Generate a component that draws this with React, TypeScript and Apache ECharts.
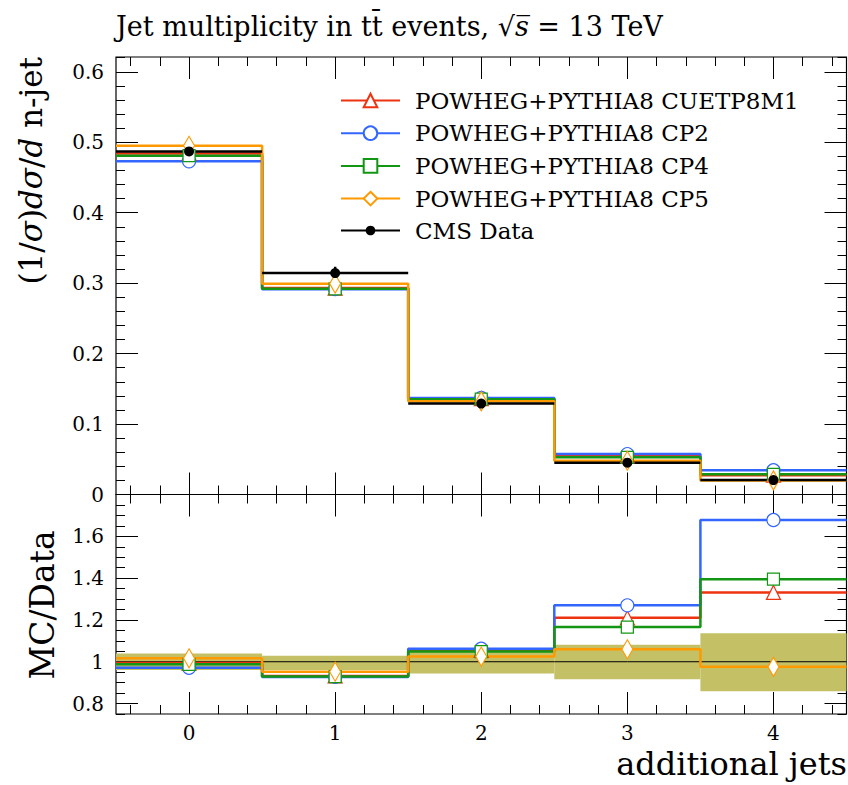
import React, { useEffect, useRef } from 'react';
import * as echarts from 'echarts';

// ---- data ----
const binEdges = [-0.5, 0.5, 1.5, 2.5, 3.5, 4.5];
const binCenters = [0, 1, 2, 3, 4];
const xTickLabels = ['0', '1', '2', '3', '4'];

const yTopTicks = [0, 0.1, 0.2, 0.3, 0.4, 0.5, 0.6];
const yTopTickLabels = ['0', '0.1', '0.2', '0.3', '0.4', '0.5', '0.6'];
const yRatioTicks = [0.8, 1.0, 1.2, 1.4, 1.6];
const yRatioTickLabels = ['0.8', '1', '1.2', '1.4', '1.6'];

const cmsData = [0.487, 0.3143, 0.129, 0.0452, 0.0205];
const cmsErrUp = [0.019, 0.009, 0.0068, 0.0037, 0.0028];
const cmsErrDown = [0.019, 0.0125, 0.0072, 0.0038, 0.0029];

const mcCUETP8M1 = [0.484, 0.293, 0.136, 0.0547, 0.0273];
const mcCP2 = [0.473, 0.2915, 0.137, 0.0574, 0.0344];
const mcCP4 = [0.481, 0.292, 0.1353, 0.0527, 0.0286];
const mcCP5 = [0.495, 0.2993, 0.1322, 0.0479, 0.0200];

const mcNames = [
  'POWHEG+PYTHIA8 CUETP8M1',
  'POWHEG+PYTHIA8 CP2',
  'POWHEG+PYTHIA8 CP4',
  'POWHEG+PYTHIA8 CP5',
];
const dataName = 'CMS Data';

const FONT = 'DejaVu Serif';

const mcStyles = [
  { values: mcCUETP8M1, color: '#ee3311', symbol: 'triangle', size: 14 },
  { values: mcCP2, color: '#3366ff', symbol: 'circle', size: 13 },
  { values: mcCP4, color: '#139613', symbol: 'rect', size: 12 },
  { values: mcCP5, color: '#ff9900', symbol: 'diamond', size: [11, 19] },
];

function range(from: number, to: number, step: number, skip: number[]) {
  const out: number[] = [];
  const n = Math.round((to - from) / step);
  for (let k = 0; k <= n; k++) {
    const v = Math.round((from + k * step) * 1000) / 1000;
    if (!skip.some((s) => Math.abs(s - v) < 1e-9)) out.push(v);
  }
  return out;
}

const xMinor = range(-0.4, 4.4, 0.2, binCenters);
const yTopMinor = range(0.02, 0.62, 0.02, yTopTicks);
const yRatioMinor = range(0.75, 1.75, 0.05, yRatioTicks);

function stepData(values: number[]) {
  const pts: any[] = [];
  values.forEach((v, i) => {
    pts.push({ value: [binEdges[i], v], symbol: 'none' });
    pts.push({ value: [binCenters[i], v] });
    pts.push({ value: [binEdges[i + 1], v], symbol: 'none' });
  });
  return pts;
}

function barData(values: number[]) {
  const pts: any[] = [];
  values.forEach((v, i) => {
    pts.push({ value: [binEdges[i], v], symbol: 'none' });
    pts.push({ value: [binCenters[i], v] });
    pts.push({ value: [binEdges[i + 1], v], symbol: 'none' });
    if (i < values.length - 1) pts.push({ value: [binEdges[i + 1], '-'], symbol: 'none' });
  });
  return pts;
}

function errData(values: number[], up: number[], down: number[]) {
  const pts: any[] = [];
  values.forEach((v, i) => {
    pts.push([binCenters[i], v - down[i]]);
    pts.push([binCenters[i], v + up[i]]);
    if (i < values.length - 1) pts.push([binCenters[i], '-']);
  });
  return pts;
}

const tick = (len: number, vals: number[]) => ({
  show: true,
  inside: true,
  length: len,
  customValues: vals,
  lineStyle: { color: '#000', width: 1 },
});

function xAxes(gridIndex: number, withLabels: boolean) {
  const base = {
    type: 'value',
    gridIndex,
    min: -0.5,
    max: 4.5,
    axisLine: { show: false, onZero: false },
    splitLine: { show: false },
  };
  return [
    {
      ...base,
      position: 'bottom',
      axisTick: tick(22, binCenters),
      axisLabel: withLabels
        ? {
            show: true,
            customValues: binCenters,
            formatter: (v: number) => xTickLabels[binCenters.indexOf(v)] ?? '',
            color: '#000',
            fontFamily: FONT,
            fontSize: 20,
            margin: 9,
          }
        : { show: false },
    },
    { ...base, position: 'bottom', axisTick: tick(9, xMinor), axisLabel: { show: false } },
    { ...base, position: 'top', axisTick: tick(22, binCenters), axisLabel: { show: false } },
    { ...base, position: 'top', axisTick: tick(9, xMinor), axisLabel: { show: false } },
  ];
}

function yAxes(gridIndex: number, min: number, max: number, major: number[], labels: string[], minor: number[]) {
  const base = {
    type: 'value',
    gridIndex,
    min,
    max,
    axisLine: { show: false, onZero: false },
    splitLine: { show: false },
  };
  return [
    {
      ...base,
      position: 'left',
      axisTick: tick(22, major),
      axisLabel: {
        show: true,
        customValues: major,
        formatter: (v: number) => {
          const i = major.findIndex((m) => Math.abs(m - v) < 1e-9);
          return i >= 0 ? labels[i] : '';
        },
        color: '#000',
        fontFamily: FONT,
        fontSize: 20,
        margin: 12,
      },
    },
    { ...base, position: 'left', axisTick: tick(9, minor), axisLabel: { show: false } },
    { ...base, position: 'right', axisTick: tick(22, major), axisLabel: { show: false } },
    { ...base, position: 'right', axisTick: tick(9, minor), axisLabel: { show: false } },
  ];
}

export default function App() {
  const ref = useRef<HTMLDivElement>(null);

  useEffect(() => {
    if (!ref.current) return;
    const chart = echarts.init(ref.current, null, { renderer: 'svg' });

    const series: any[] = [];

    // ratio panel: uncertainty band
    series.push({
      type: 'custom',
      name: 'band',
      xAxisIndex: 4,
      yAxisIndex: 4,
      silent: true,
      data: cmsData.map((v, i) => [binEdges[i], binEdges[i + 1], 1 - cmsErrDown[i] / v, 1 + cmsErrUp[i] / v]),
      encode: { x: [0, 1], y: [2, 3] },
      renderItem: (params: any, api: any) => {
        const p1 = api.coord([api.value(0), api.value(3)]);
        const p2 = api.coord([api.value(1), api.value(2)]);
        return {
          type: 'rect',
          shape: { x: p1[0], y: p1[1], width: p2[0] - p1[0], height: p2[1] - p1[1] },
          style: { fill: '#c4c066' },
        };
      },
    });
    // ratio panel: data/data reference line
    series.push({
      type: 'line',
      name: 'ratio-ref',
      xAxisIndex: 4,
      yAxisIndex: 4,
      silent: true,
      symbol: 'none',
      data: stepData(cmsData.map((v) => v / v)),
      lineStyle: { color: '#000', width: 1 },
    });

    mcStyles.forEach((m, k) => {
      const common = {
        type: 'line',
        name: mcNames[k],
        silent: true,
        symbol: m.symbol,
        symbolSize: m.size,
        showSymbol: true,
        lineStyle: { color: m.color, width: 2.5 },
        itemStyle: { color: '#fff', borderColor: m.color, borderWidth: 1.2 },
        emphasis: { disabled: true },
      };
      series.push({ ...common, xAxisIndex: 0, yAxisIndex: 0, data: stepData(m.values) });
      series.push({
        ...common,
        xAxisIndex: 4,
        yAxisIndex: 4,
        data: stepData(m.values.map((v, i) => v / cmsData[i])),
      });
    });

    // data in top panel
    series.push({
      type: 'line',
      name: dataName,
      xAxisIndex: 0,
      yAxisIndex: 0,
      silent: true,
      symbol: 'circle',
      symbolSize: 10,
      showSymbol: true,
      connectNulls: false,
      lineStyle: { color: '#000', width: 2.5 },
      itemStyle: { color: '#000' },
      data: barData(cmsData),
    });
    series.push({
      type: 'line',
      name: 'data-err',
      xAxisIndex: 0,
      yAxisIndex: 0,
      silent: true,
      symbol: 'none',
      connectNulls: false,
      lineStyle: { color: '#000', width: 2.5 },
      data: errData(cmsData, cmsErrUp, cmsErrDown),
    });

    const legendText = { fontFamily: FONT, fontSize: 23, color: '#000', padding: [0, 0, 0, 10] };

    chart.setOption({
      animation: false,
      backgroundColor: '#fff',
      grid: [
        { left: 116, top: 57, width: 730.5, height: 437.5, show: true, borderColor: '#000', borderWidth: 1.2 },
        { left: 116, top: 494.5, width: 730.5, height: 219.5, show: true, borderColor: '#000', borderWidth: 1.2 },
      ],
      xAxis: [...xAxes(0, false), ...xAxes(1, true)],
      yAxis: [
        ...yAxes(0, 0, 0.621, yTopTicks, yTopTickLabels, yTopMinor),
        ...yAxes(1, 0.75, 1.8, yRatioTicks, yRatioTickLabels, yRatioMinor),
      ],
      legend: [
        {
          data: mcNames,
          orient: 'vertical',
          left: 335,
          top: 84,
          itemWidth: 59,
          itemHeight: 17,
          itemGap: 9.7,
          selectedMode: false,
          textStyle: legendText,
        },
        {
          data: [dataName],
          orient: 'vertical',
          left: 335,
          top: 214,
          itemWidth: 59,
          itemHeight: 12,
          selectedMode: false,
          textStyle: legendText,
        },
      ],
      graphic: [
        {
          type: 'text',
          left: 116,
          top: 13,
          style: {
            text: 'Jet multiplicity in tt\u0304 events, \u221A{i|s\u0305} = 13 TeV',
            fontFamily: FONT,
            fontSize: 27,
            fill: '#000',
            rich: { i: { fontFamily: FONT, fontSize: 27, fontStyle: 'italic', fill: '#000' } },
          },
        },
        {
          type: 'text',
          x: 31,
          y: 57,
          rotation: Math.PI / 2,
          style: {
            text: '(1/{i|\u03C3}){i|d\u03C3}/{i|d} n-jet',
            fontFamily: FONT,
            fontSize: 31,
            fill: '#000',
            align: 'right',
            verticalAlign: 'middle',
            rich: { i: { fontFamily: FONT, fontSize: 31, fontStyle: 'italic', fill: '#000' } },
          },
        },
        {
          type: 'text',
          x: 42,
          y: 605,
          rotation: Math.PI / 2,
          style: {
            text: 'MC/Data',
            fontFamily: FONT,
            fontSize: 33,
            fill: '#000',
            align: 'center',
            verticalAlign: 'middle',
          },
        },
        {
          type: 'text',
          x: 847,
          y: 764,
          style: {
            text: 'additional jets',
            fontFamily: FONT,
            fontSize: 32,
            fill: '#000',
            align: 'right',
            verticalAlign: 'middle',
          },
        },
      ],
      series,
    });

    return () => chart.dispose();
  }, []);

  return <div ref={ref} style={{ position: 'fixed', left: 0, top: 0, width: 848, height: 785 }} />;
}
